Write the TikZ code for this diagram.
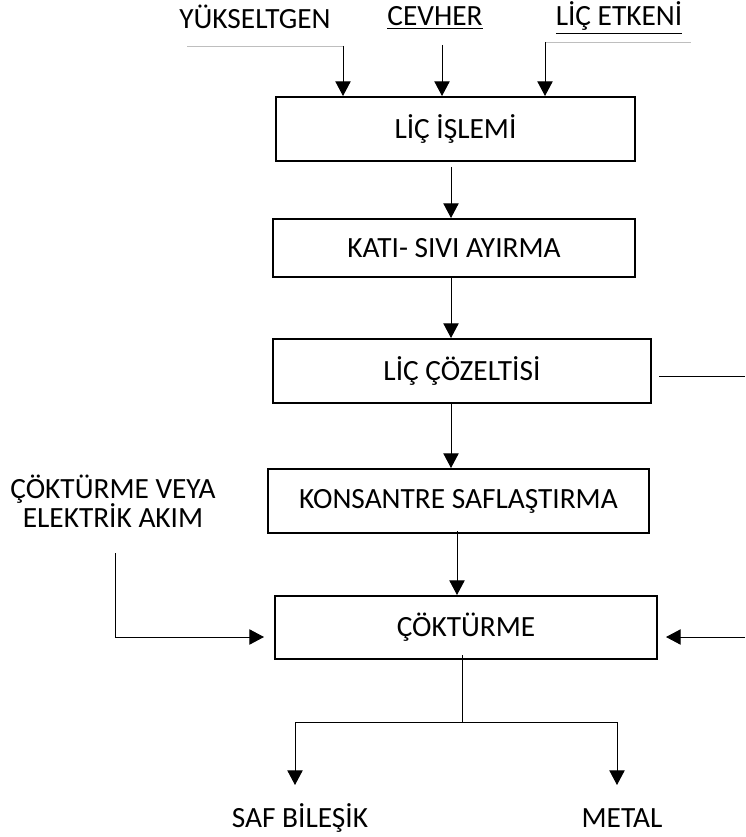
\documentclass[tikz,border=0pt]{standalone}
\usepackage{fontspec}
\setmainfont{Carlito}
\usetikzlibrary{arrows.meta}

\tikzset{every picture/.style={line width=0.75pt}}
\tikzset{
  procbox/.style={draw, line width=1.5pt, inner sep=0.75pt, align=center},
  labeltext/.style={inner sep=0.75pt},
  flow/.style={-{Triangle[length=11pt,width=11.5pt]}},
  faintline/.style={line width=0.5pt, color={rgb, 255:red, 190; green, 190; blue, 190}},
}

\begin{document}
\begin{tikzpicture}[x=0.75pt,y=0.75pt,yscale=-1,font=\fontsize{22}{26}\selectfont]
	\useasboundingbox (0,0) rectangle (745,837);

	% Text Node
	\node [labeltext, anchor=base] (yukseltgen) at (255,29) {YÜKSELTGEN};
	% Text Node
	\node [labeltext, anchor=base] (cevher) at (435,26) {\underline{CEVHER}};
	% Text Node
	\node [labeltext, anchor=base] (licetkeni) at (619,26) {\underline{LİÇ ETKENİ}};

	% Text Node
	\node [procbox, minimum width=269.25pt, minimum height=48pt] (licislemi) at (455.5,129) {LİÇ İŞLEMİ};
	% Text Node
	\node [procbox, minimum width=271.5pt, minimum height=43.5pt] (katisivi) at (454,248) {KATI- SIVI AYIRMA};
	% Text Node
	\node [procbox, minimum width=283.5pt, minimum height=48pt] (liccozelti) at (462,371) {LİÇ ÇÖZELTİSİ};
	% Text Node
	\node [procbox, minimum width=285.75pt, minimum height=48pt] (konsantre) at (458.5,501) {KONSANTRE SAFLAŞTIRMA};
	% Text Node
	\node [procbox, minimum width=286.5pt, minimum height=47.25pt] (cokturme) at (466,627.5) {ÇÖKTÜRME};

	% Text Node
	\node [labeltext, align=center, font=\fontsize{22}{22}\selectfont] (elektrik) at (113,501) {ÇÖKTÜRME VEYA\\ELEKTRİK AKIM};
	% Text Node
	\node [labeltext, anchor=base] (safbilesik) at (300,827) {SAF BİLEŞİK};
	% Text Node
	\node [labeltext, anchor=base] (metal) at (622,827) {METAL};

	% free ends
	\coordinate (yin) at (343,46);
	\coordinate (cin) at (442,45);
	\coordinate (lin) at (545,42);
	\coordinate (out1) at (451,167);
	\coordinate (out2) at (451,277);
	\coordinate (out3) at (451,403);
	\coordinate (out4) at (457,531);
	\coordinate (sideout) at (659,376);
	\coordinate (rightedge) at (745,376);
	\coordinate (leftfeed) at (115,553);
	\coordinate (leftin) at (264,637);
	\coordinate (rightfeed) at (745,637);
	\coordinate (rightin) at (666,637);
	\coordinate (split) at (462,722);
	\coordinate (saftip) at (295,785);
	\coordinate (metaltip) at (617,785);

	%Straight Lines
	\draw [faintline] (187,46) -- (yin);
	%Straight Lines
	\draw [faintline] (lin) -- (691,42);

	% Connection
	\draw [flow] (yin) -- (yin |- licislemi.north);
	% Connection
	\draw [flow] (cin) -- (cin |- licislemi.north);
	% Connection
	\draw [flow] (lin) -- (lin |- licislemi.north);
	% Connection
	\draw [flow] (out1) -- (out1 |- katisivi.north);
	% Connection
	\draw [flow] (out2) -- (out2 |- liccozelti.north);
	% Connection
	\draw [flow] (out3) -- (out3 |- konsantre.north);
	% Connection
	\draw [flow] (out4) -- (out4 |- cokturme.north);
	% Connection
	\draw (sideout) -- (rightedge);
	% Connection
	\draw [flow] (leftfeed) |- (leftin);
	% Connection
	\draw [flow] (rightfeed) -- (rightin);
	% Connection
	\draw ([yshift=-3.75pt]split |- cokturme.south) -- (split);
	\draw [flow] (split) -| (saftip);
	\draw [flow] (split) -| (metaltip);

\end{tikzpicture}
\end{document}
